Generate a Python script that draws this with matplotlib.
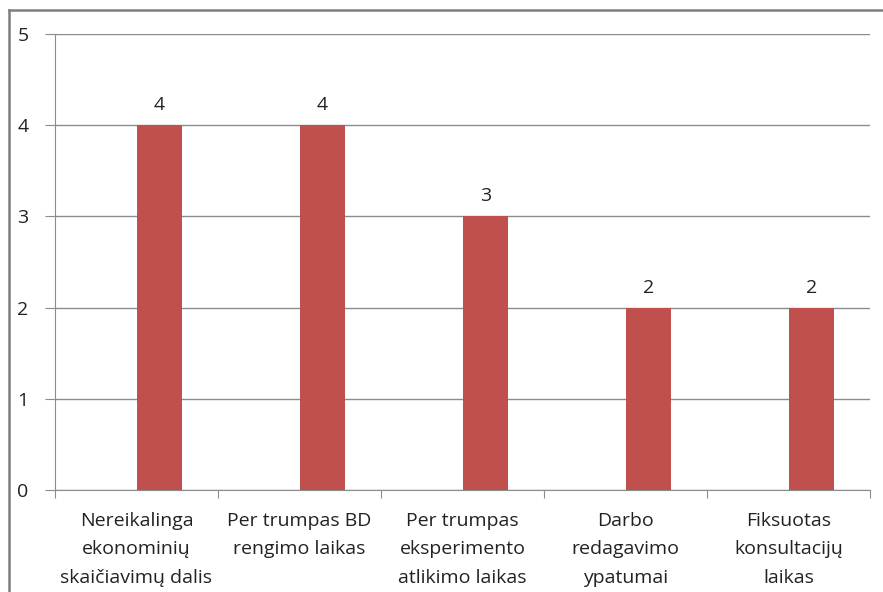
import matplotlib.pyplot as plt
from matplotlib.lines import Line2D

categories = [
    "Nereikalinga\nekonominių\nskaičiavimų dalis",
    "Per trumpas BD\nrengimo laikas",
    "Per trumpas\neksperimento\natlikimo laikas",
    "Darbo\nredagavimo\nypatumai",
    "Fiksuotas\nkonsultacijų\nlaikas",
]
values = [4, 4, 3, 2, 2]

plt.rcParams["font.family"] = ["Open Sans", "DejaVu Sans"]

fig = plt.figure(figsize=(8.83, 5.92), dpi=100)
ax = fig.add_axes([55 / 883, 1 - 490 / 592, 815 / 883, 456 / 592])

x = range(len(values))
# bars sit to the right of the category centre (Excel clustered layout)
bars = ax.bar(x, values, width=0.28, align="edge", color="#C0504D", zorder=3)
for b, v in zip(bars, values):
    ax.text(b.get_x() + b.get_width() / 2, v + 0.12, str(v),
            ha="center", va="bottom", fontsize=14, color="#222222")

ax.set_xlim(-0.5, len(values) - 0.5)
ax.set_ylim(0, 5)
ax.set_yticks(range(6))
ax.yaxis.grid(True, color="#8c8c8c", linewidth=1, zorder=0)

# boundary ticks between categories, labels placed under the centres
ax.set_xticks([i + 0.5 for i in range(-1, len(values))])
ax.set_xticklabels([])
for i, lab in zip(x, categories):
    ax.text(i, -0.048, lab, transform=ax.get_xaxis_transform(),
            ha="center", va="top", fontsize=14, color="#222222",
            linespacing=1.75)
ax.tick_params(axis="x", length=6, color="#8c8c8c", direction="out")
ax.tick_params(axis="y", length=7, color="#8c8c8c", labelsize=14,
               labelcolor="#222222", pad=12)

for s in ["top", "right"]:
    ax.spines[s].set_visible(False)
for s in ["left", "bottom"]:
    ax.spines[s].set_color("#8c8c8c")

# outer chart frame
fig.add_artist(Line2D([9 / 883, 9 / 883], [0, 1 - 10 / 592],
                      transform=fig.transFigure, color="#7f7f7f", linewidth=1.8))
fig.add_artist(Line2D([9 / 883, 1], [1 - 10 / 592, 1 - 10 / 592],
                      transform=fig.transFigure, color="#7f7f7f", linewidth=1.8))

fig.savefig("out.png", dpi=100)
